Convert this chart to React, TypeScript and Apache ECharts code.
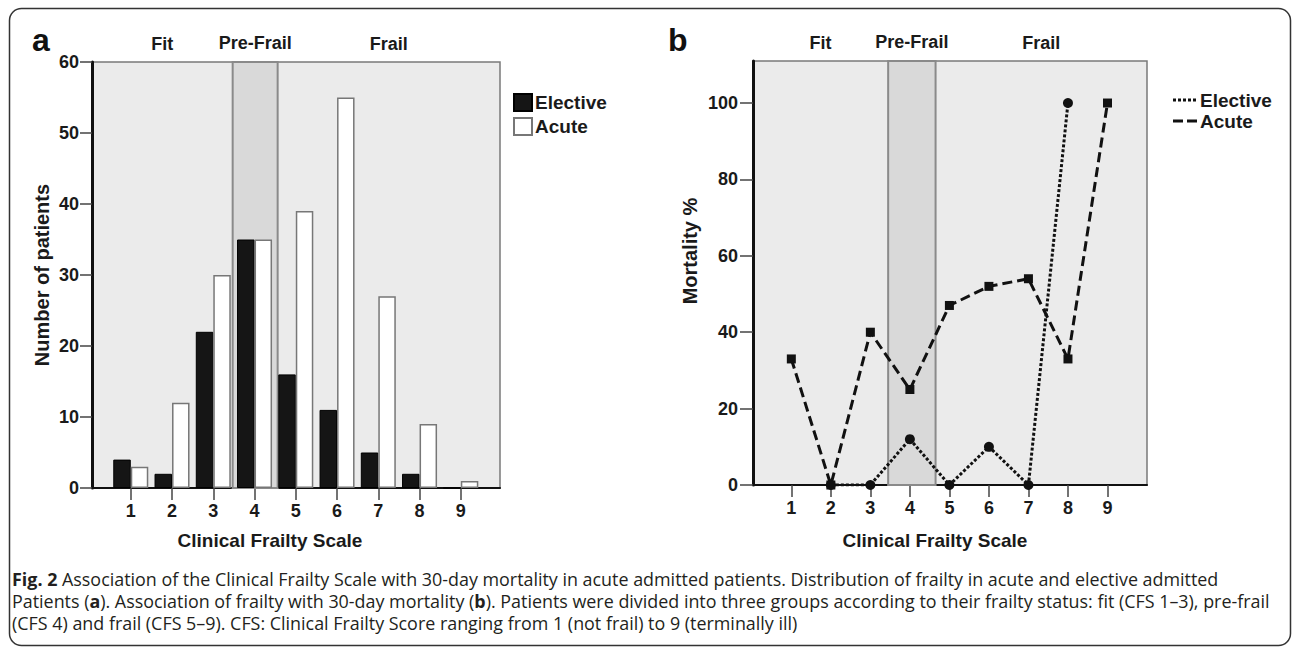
import React, { useEffect, useRef } from "react";
import * as echarts from "echarts";

// ---- data ----
const cfsScores = [1, 2, 3, 4, 5, 6, 7, 8, 9];
const electiveCounts = [4, 2, 22, 35, 16, 11, 5, 2, 0];
const acuteCounts = [3, 12, 30, 35, 39, 55, 27, 9, 1];
const electiveMortality: (number | null)[] = [null, 0, 0, 12, 0, 10, 0, 100, null];
const acuteMortality = [33, 0, 40, 25, 47, 52, 54, 33, 100];
const countTicks = [0, 10, 20, 30, 40, 50, 60];
const mortalityTicks = [0, 20, 40, 60, 80, 100];
const groupNames = ["Fit", "Pre-Frail", "Frail"];
const bandEdgesA = [0.06, 3.47, 4.56, 9.95];
const bandEdgesB = [0.03, 3.45, 4.65, 10.0];
const seriesNames = ["Elective", "Acute"];

const FONT = "'Liberation Sans', Arial, Helvetica, sans-serif";
const CAP_FONT = "'Open Sans', 'Noto Sans', sans-serif";
const INK = "#1a1a1a";

function bands(edges: number[], yMax: number) {
  return groupNames.map((name, i) => {
    const mid = i === 1;
    return [
      {
        name,
        xAxis: edges[i],
        yAxis: 0,
        itemStyle: mid
          ? { color: "#d9d9d9", borderColor: "#8a8a8a", borderWidth: 2 }
          : { color: "rgba(0,0,0,0)", borderWidth: 0 },
      },
      { xAxis: edges[i + 1], yAxis: yMax },
    ];
  });
}

const bandLabel = {
  show: true,
  position: "top",
  distance: 9,
  formatter: "{b}",
  color: INK,
  fontFamily: FONT,
  fontWeight: "bold",
  fontSize: 18,
};

function xAxisCfg(gridIndex: number, min: number, max: number, gap: number, shift: number) {
  return {
    gridIndex,
    type: "value",
    min,
    max,
    axisLine: { show: true, onZero: false, lineStyle: { color: "#111", width: 2 } },
    axisTick: { show: true, customValues: cfsScores, length: 12, lineStyle: { color: "#444", width: 1.5 } },
    axisLabel: {
      customValues: cfsScores,
      margin: 14,
      fontSize: 18,
      fontWeight: "bold",
      color: INK,
      fontFamily: FONT,
    },
    splitLine: { show: false },
    name: "Clinical Frailty Scale",
    nameLocation: "middle",
    nameGap: gap,
    nameTextStyle: {
      fontSize: 19,
      fontWeight: "bold",
      color: INK,
      fontFamily: FONT,
      padding: [0, shift, 0, 0],
    },
  };
}

export default function App() {
  const ref = useRef<HTMLDivElement>(null);
  useEffect(() => {
    if (!ref.current) return;
    const chart = echarts.init(ref.current, undefined, { renderer: "svg" });
    const gridStyle = {
      show: true,
      backgroundColor: "#ebebeb",
      borderColor: "#7a7a7a",
      borderWidth: 1.5,
    };
    const option: any = {
      animation: false,
      backgroundColor: "#ffffff",
      grid: [
        { left: 92, top: 62, width: 408, height: 426, ...gridStyle },
        { left: 753, top: 61, width: 394, height: 424, ...gridStyle },
      ],
      xAxis: [xAxisCfg(0, bandEdgesA[0], bandEdgesA[3], 43, 52), xAxisCfg(1, bandEdgesB[0], bandEdgesB[3], 46, 30)],
      yAxis: [
        {
          gridIndex: 0,
          type: "value",
          min: 0,
          max: 60,
          interval: 10,
          axisLine: { show: true, onZero: false, lineStyle: { color: "#111", width: 3 } },
          axisTick: { show: true, length: 12, customValues: countTicks, lineStyle: { color: "#444", width: 1.5 } },
          axisLabel: { customValues: countTicks, margin: 13, fontSize: 18, fontWeight: "bold", color: INK, fontFamily: FONT },
          splitLine: { show: false },
          name: "Number of patients",
          nameLocation: "middle",
          nameGap: 40,
          nameTextStyle: { fontSize: 20, fontWeight: "bold", color: INK, fontFamily: FONT },
        },
        {
          gridIndex: 1,
          type: "value",
          min: 0,
          max: 111,
          axisLine: { show: true, onZero: false, lineStyle: { color: "#111", width: 3 } },
          axisTick: { show: true, length: 13, customValues: mortalityTicks, lineStyle: { color: "#444", width: 1.5 } },
          axisLabel: { customValues: mortalityTicks, margin: 15, fontSize: 18, fontWeight: "bold", color: INK, fontFamily: FONT },
          splitLine: { show: false },
          name: "Mortality %",
          nameLocation: "middle",
          nameGap: 53,
          nameTextStyle: { fontSize: 20, fontWeight: "bold", color: INK, fontFamily: FONT, padding: [0, 0, 0, 44] },
        },
      ],
      legend: {
        data: seriesNames.map((n) => ({ name: n, icon: "rect" })),
        left: 513,
        top: 93,
        orient: "vertical",
        itemWidth: 18,
        itemHeight: 17,
        itemGap: 5,
        padding: 0,
        textStyle: { fontSize: 19, fontWeight: "bold", color: INK, fontFamily: FONT, padding: [0, 0, 0, -2] },
        selectedMode: false,
      },
      series: [
        {
          name: seriesNames[0],
          type: "bar",
          xAxisIndex: 0,
          yAxisIndex: 0,
          barWidth: 17.5,
          barGap: "0%",
          data: cfsScores.map((c, i) => [c, electiveCounts[i]]),
          itemStyle: { color: "#151515", borderColor: "#000", borderWidth: 1 },
          markArea: { silent: true, z: 1, label: bandLabel, data: bands(bandEdgesA, 60) },
        },
        {
          name: seriesNames[1],
          type: "bar",
          xAxisIndex: 0,
          yAxisIndex: 0,
          barWidth: 17.5,
          barGap: "0%",
          data: cfsScores.map((c, i) => [c, acuteCounts[i]]),
          itemStyle: { color: "#ffffff", borderColor: "#777", borderWidth: 1.5 },
        },
        {
          name: "Elective mortality",
          type: "line",
          xAxisIndex: 1,
          yAxisIndex: 1,
          data: cfsScores.map((c, i) => [c, electiveMortality[i]]),
          symbol: "circle",
          symbolSize: 10,
          itemStyle: { color: "#111" },
          lineStyle: { color: "#111", width: 3, type: [3, 2] },
          z: 3,
          markArea: { silent: true, z: 1, label: bandLabel, data: bands(bandEdgesB, 111) },
        },
        {
          name: "Acute mortality",
          type: "line",
          xAxisIndex: 1,
          yAxisIndex: 1,
          data: cfsScores.map((c, i) => [c, acuteMortality[i]]),
          symbol: "rect",
          symbolSize: 9,
          itemStyle: { color: "#111" },
          lineStyle: { color: "#111", width: 3, type: [10, 5] },
          z: 3,
        },
      ],
      graphic: [
        {
          type: "rect",
          shape: { x: 9.5, y: 8.5, width: 1281, height: 637, r: 12 },
          style: { fill: "none", stroke: "#333", lineWidth: 1.5 },
          silent: true,
        },
        {
          type: "text",
          left: 32,
          top: 24,
          style: { text: "a", fontSize: 32, fontWeight: "bold", fill: "#111", fontFamily: FONT },
        },
        {
          type: "text",
          left: 668,
          top: 24,
          style: { text: "b", fontSize: 32, fontWeight: "bold", fill: "#111", fontFamily: FONT },
        },
        {
          type: "line",
          shape: { x1: 1173, y1: 100, x2: 1197, y2: 100 },
          style: { stroke: "#111", lineWidth: 3, lineDash: [3, 2] },
        },
        {
          type: "text",
          x: 1200,
          y: 100,
          style: { text: seriesNames[0], fontSize: 19, fontWeight: "bold", fill: INK, fontFamily: FONT, verticalAlign: "middle" },
        },
        {
          type: "line",
          shape: { x1: 1173, y1: 121, x2: 1197, y2: 121 },
          style: { stroke: "#111", lineWidth: 3, lineDash: [10, 4] },
        },
        {
          type: "text",
          x: 1200,
          y: 121,
          style: { text: seriesNames[1], fontSize: 19, fontWeight: "bold", fill: INK, fontFamily: FONT, verticalAlign: "middle" },
        },
        {
          type: "text",
          x: 12,
          y: 568,
          style: {
            text:
              "{b|Fig. 2} Association of the Clinical Frailty Scale with 30-day mortality in acute admitted patients. Distribution of frailty in acute and elective admitted\n" +
              "Patients ({b|a}). Association of frailty with 30-day mortality ({b|b}). Patients were divided into three groups according to their frailty status: fit (CFS 1\u20133), pre-frail\n" +
              "(CFS 4) and frail (CFS 5\u20139). CFS: Clinical Frailty Score ranging from 1 (not frail) to 9 (terminally ill)",
            fontSize: 17.9,
            lineHeight: 22,
            fontFamily: CAP_FONT,
            fill: "#231f20",
            verticalAlign: "top",
            rich: {
              b: { fontSize: 17.9, lineHeight: 22, fontFamily: CAP_FONT, fontWeight: "bold", fill: "#231f20" },
            },
          },
        },
      ],
    };
    chart.setOption(option);
    return () => chart.dispose();
  }, []);
  return <div ref={ref} style={{ position: "fixed", left: 0, top: 0, width: 1292, height: 647 }} />;
}
